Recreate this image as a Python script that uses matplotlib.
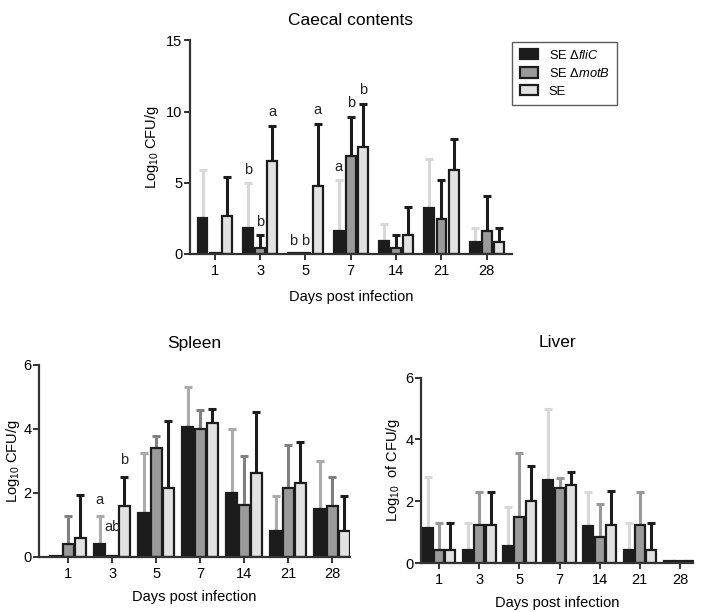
import matplotlib
matplotlib.use('Agg')
import matplotlib.pyplot
import numpy

# days post infection
days = ['1', '3', '5', '7', '14', '21', '28']

# Caecal contents: means and top of error bars (log10 CFU/g)
caecal_flic = [2.5, 1.85, 0.06, 1.6, 0.9, 3.2, 0.85]
caecal_flic_err = [5.9, 4.95, 0.06, 5.2, 2.1, 6.7, 1.85]
caecal_motb = [0.08, 0.4, 0.06, 6.9, 0.4, 2.45, 1.6]
caecal_motb_err = [0.08, 1.3, 0.06, 9.6, 1.3, 5.2, 4.1]
caecal_se = [2.7, 6.5, 4.75, 7.5, 1.35, 5.9, 0.85]
caecal_se_err = [5.4, 9.0, 9.1, 10.55, 3.3, 8.05, 1.85]
caecal_letters = [(1, 0, 'b', 5.4), (1, 1, 'b', 1.75), (1, 2, 'a', 9.5),
                  (2, 0, 'b', 0.45), (2, 1, 'b', 0.45), (2, 2, 'a', 9.6),
                  (3, 0, 'a', 5.6), (3, 1, 'b', 10.1), (3, 2, 'b', 11.0)]

# Spleen
spleen_flic = [0.03, 0.39, 1.38, 4.05, 2.0, 0.8, 1.5]
spleen_flic_err = [0.03, 1.28, 3.25, 5.3, 4.0, 1.9, 3.0]
spleen_motb = [0.4, 0.02, 3.4, 4.0, 1.63, 2.15, 1.6]
spleen_motb_err = [1.28, 0.02, 3.76, 4.6, 3.15, 3.48, 2.5]
spleen_se = [0.6, 1.58, 2.15, 4.18, 2.62, 2.3, 0.8]
spleen_se_err = [1.93, 2.48, 4.23, 4.63, 4.53, 3.6, 1.9]
spleen_letters = [(1, 0, 'a', 1.55), (1, 1, 'ab', 0.72), (1, 2, 'b', 2.8)]

# Liver
liver_flic = [1.12, 0.41, 0.56, 2.69, 1.2, 0.41, 0.05]
liver_flic_err = [2.78, 1.3, 1.8, 5.0, 2.31, 1.3, 0.05]
liver_motb = [0.41, 1.22, 1.48, 2.42, 0.84, 1.22, 0.05]
liver_motb_err = [1.3, 2.3, 3.56, 2.74, 1.9, 2.3, 0.05]
liver_se = [0.41, 1.22, 2.0, 2.53, 1.23, 0.41, 0.07]
liver_se_err = [1.3, 2.3, 3.13, 2.94, 2.34, 1.3, 0.07]

labels = ['SE $\\Delta$$\\it{fliC}$', 'SE $\\Delta$$\\it{motB}$', 'SE']
face = ['#1c1c1c', '#9a9a9a', '#e2e2e2']
edge = '#1c1c1c'

matplotlib.pyplot.rcParams.update({'font.family': 'Liberation Sans', 'font.size': 10,
                                   'mathtext.fontset': 'custom',
                                   'mathtext.rm': 'Liberation Sans',
                                   'mathtext.it': 'Liberation Sans:italic'})


def plotPanel(ax, means, tops, errColors, width, offset, ylim, yticks, title, ylabel, xlim,
              letters=(), titlePad=6, xlabelPad=6):
    x = numpy.arange(len(days))
    handles = []
    for i, (m, t) in enumerate(zip(means, tops)):
        m = numpy.array(m)
        t = numpy.array(t)
        pos = x + (i - 1) * offset
        up = numpy.where(t - m > 0.05, t - m, numpy.nan)
        ax.errorbar(pos, m, yerr=[numpy.zeros_like(up), up], fmt='none', ecolor=errColors[i],
                    elinewidth=2.2, capsize=3, capthick=2.2, zorder=1)
        h = ax.bar(pos, m, width=width, color=face[i], edgecolor=edge, linewidth=1.6, zorder=2)
        handles.append(h)
    for d, s, txt, y in letters:
        ax.text(d + (s - 1) * offset, y, txt, ha='center', va='bottom', fontsize=10.5, color='#222222')
    ax.set_xlim(*xlim)
    ax.set_ylim(*ylim)
    ax.set_yticks(yticks)
    ax.set_xticks(x)
    ax.set_xticklabels(days)
    ax.spines['top'].set_visible(False)
    ax.spines['right'].set_visible(False)
    for sp in ['left', 'bottom']:
        ax.spines[sp].set_linewidth(1.6)
        ax.spines[sp].set_color('#333333')
    ax.tick_params(width=1.4, length=4, color='#333333', labelsize=10.5)
    ax.tick_params(axis='y', pad=1.5)
    ax.set_title(title, fontsize=12.5, pad=titlePad)
    ax.set_xlabel('Days post infection', fontsize=10.5, labelpad=xlabelPad)
    ax.set_ylabel(ylabel, fontsize=10.5)
    return handles


def main():
    f = matplotlib.pyplot.figure(figsize=(7.03, 6.12), dpi=100)
    axCaecal = f.add_axes([0.270, 0.585, 0.458, 0.349])
    axSpleen = f.add_axes([0.0555, 0.090, 0.442, 0.314])
    axLiver = f.add_axes([0.599, 0.080, 0.387, 0.303])

    handles = plotPanel(axCaecal, [caecal_flic, caecal_motb, caecal_se],
                        [caecal_flic_err, caecal_motb_err, caecal_se_err],
                        ['#d8d8d8', '#1c1c1c', '#1c1c1c'], 0.22, 0.27,
                        (0, 15), [0, 5, 10, 15], 'Caecal contents', 'Log$_{10}$ CFU/g',
                        (-0.55, 6.55), caecal_letters, titlePad=11, xlabelPad=8)
    axCaecal.yaxis.set_label_coords(-0.088, 0.5)

    plotPanel(axSpleen, [spleen_flic, spleen_motb, spleen_se],
              [spleen_flic_err, spleen_motb_err, spleen_se_err],
              ['#ababab', '#808080', '#1c1c1c'], 0.25, 0.28,
              (0, 6), [0, 2, 4, 6], 'Spleen', 'Log$_{10}$ CFU/g',
              (-0.66, 6.4), spleen_letters, titlePad=12, xlabelPad=6)
    axSpleen.yaxis.set_label_coords(-0.055, 0.5)

    plotPanel(axLiver, [liver_flic, liver_motb, liver_se],
              [liver_flic_err, liver_motb_err, liver_se_err],
              ['#d8d8d8', '#999999', '#1c1c1c'], 0.25, 0.28,
              (0, 6), [0, 2, 4, 6], 'Liver', 'Log$_{10}$  of CFU/g',
              (-0.45, 6.33), titlePad=22, xlabelPad=6)
    axLiver.yaxis.set_label_coords(-0.07, 0.5)

    leg = f.legend(handles, labels, loc='upper left', bbox_to_anchor=(0.729, 0.932),
                   bbox_transform=f.transFigure, fancybox=False, edgecolor='#333333',
                   fontsize=9.3, borderaxespad=0, handlelength=1.45, handleheight=0.85,
                   borderpad=0.55, labelspacing=0.4, handletextpad=0.8)
    leg.get_frame().set_linewidth(1.0)
    matplotlib.pyplot.savefig('out.png', dpi=100)
    matplotlib.pyplot.close('all')


if __name__ == "__main__":
    main()
